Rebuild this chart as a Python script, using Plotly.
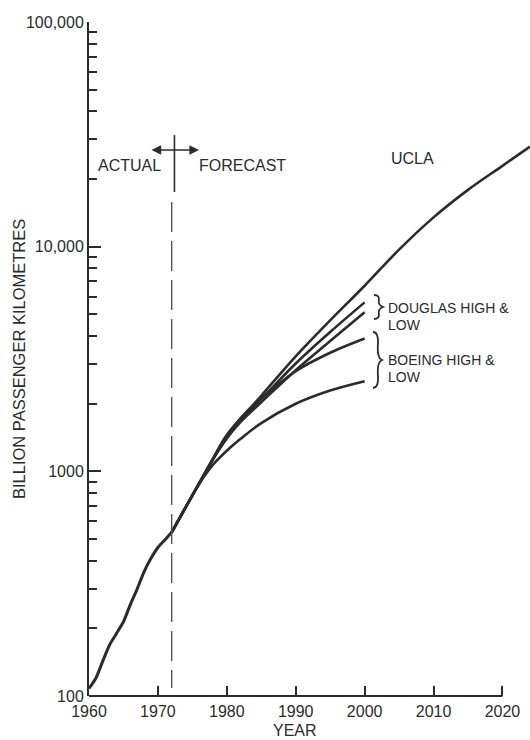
import plotly.graph_objects as go

# ---------------- data ----------------
actual_years = [1960, 1961, 1962, 1963, 1964, 1965, 1966, 1967, 1968, 1969, 1970, 1971, 1972]
actual_vals = [108, 120, 143, 169, 190, 214, 255, 300, 358, 410, 458, 495, 535]

ucla_years = [1972, 1974, 1976, 1978, 1980, 1985, 1990, 1995, 2000, 2005, 2010, 2015, 2020, 2024]
ucla_vals = [535, 690, 885, 1140, 1450, 2170, 3250, 4700, 6700, 9700, 13500, 17900, 22900, 27900]

fc_years = [1972, 1974, 1976, 1978, 1980, 1982, 1985, 1990, 1995, 2000]
douglas_high = [535, 690, 885, 1135, 1430, 1700, 2100, 3020, 4170, 5650]
douglas_low = [535, 690, 885, 1130, 1400, 1660, 2030, 2820, 3800, 5100]
boeing_high = [535, 690, 885, 1135, 1440, 1720, 2110, 2790, 3370, 3900]
boeing_low = [535, 690, 880, 1070, 1235, 1395, 1640, 2000, 2290, 2520]

x_ticks = [1960, 1970, 1980, 1990, 2000, 2010, 2020]
y_ticks = [100, 1000, 10000, 100000]
y_ticktext = ["100", "1000", "10,000", "100,000"]
y_minor = [m * 10 ** e for e in (2, 3, 4) for m in range(2, 10)]

forecast_year = 1972

# ---------------- layout helpers ----------------
W, H = 530, 740
L, R, T, B = 89, 0, 22, 44
PW, PH = W - L - R, H - T - B
INK = "#2b2b2b"
FONT = "Liberation Sans"


def px(p):
    return (p - L) / PW


def py(p):
    return (H - B - p) / PH


fig = go.Figure()
fig.add_trace(go.Scatter(x=actual_years, y=actual_vals, mode="lines",
                         line=dict(color=INK, width=3, shape="spline", smoothing=0.6),
                         name="Actual", showlegend=False))
for name, yrs, vals in [("UCLA", ucla_years, ucla_vals),
                        ("Douglas high", fc_years, douglas_high),
                        ("Douglas low", fc_years, douglas_low),
                        ("Boeing high", fc_years, boeing_high),
                        ("Boeing low", fc_years, boeing_low)]:
    fig.add_trace(go.Scatter(x=yrs, y=vals, mode="lines",
                             line=dict(color=INK, width=2.6, shape="spline", smoothing=1.0),
                             name=name, showlegend=False))

shapes = [
    # x axis line only to 2020
    dict(type="line", xref="x", yref="paper", x0=1960, x1=2020, y0=0, y1=0,
         line=dict(color=INK, width=2)),
    # solid top part of the divider
    dict(type="line", xref="x", yref="paper", x0=forecast_year + 0.4, x1=forecast_year + 0.4,
         y0=py(135), y1=py(192), line=dict(color=INK, width=1.6)),
    # dashed divider
    dict(type="line", xref="x", yref="paper", x0=forecast_year, x1=forecast_year,
         y0=py(202), y1=py(688), line=dict(color="#555", width=1.4, dash="30px,9px")),
]


def brace(x, y0, y1, w=6):
    ym = (y0 + y1) / 2
    p = (f"M {px(x)},{py(y0)} "
         f"Q {px(x + w)},{py(y0)} {px(x + w * 0.8)},{py(y0 + (ym - y0) * 0.5)} "
         f"Q {px(x + w * 0.7)},{py(ym - 2)} {px(x + w * 1.5)},{py(ym)} "
         f"Q {px(x + w * 0.7)},{py(ym + 2)} {px(x + w * 0.8)},{py(ym + (y1 - ym) * 0.5)} "
         f"Q {px(x + w)},{py(y1)} {px(x)},{py(y1)}")
    return dict(type="path", xref="paper", yref="paper", path=p,
                line=dict(color=INK, width=1.8))


shapes.append(brace(374, 295, 319))
shapes.append(brace(373, 332, 388))

txt = dict(family=FONT, size=16, color=INK)
txt2 = dict(family=FONT, size=14, color=INK)
annotations = [
    dict(text="ACTUAL", x=px(96), y=py(165), font=txt),
    dict(text="FORECAST", x=px(197), y=py(165), font=txt),
    dict(text="UCLA", x=px(389), y=py(159), font=txt),
    dict(text="DOUGLAS HIGH &", x=px(386), y=py(308), font=txt2),
    dict(text="LOW", x=px(386), y=py(325), font=txt2),
    dict(text="BOEING HIGH &", x=px(386), y=py(360), font=txt2),
    dict(text="LOW", x=px(386), y=py(377), font=txt2),
]
for a in annotations:
    a.update(xref="paper", yref="paper", xanchor="left", yanchor="middle", showarrow=False)
annotations.append(dict(text="", xref="paper", yref="paper", x=px(199), y=py(150),
                        ax=-49, ay=0, axref="pixel", ayref="pixel", showarrow=True,
                        arrowhead=2, arrowside="end+start", arrowsize=1.2,
                        arrowwidth=1.6, arrowcolor=INK, startarrowhead=2, startarrowsize=1.2))
annotations.append(dict(text="BILLION PASSENGER KILOMETRES", textangle=-90,
                        xref="paper", yref="paper", x=px(19), y=0.5,
                        xanchor="center", yanchor="middle", showarrow=False,
                        font=dict(family=FONT, size=16.5, color=INK)))
annotations.append(dict(text="YEAR", xref="paper", yref="paper", x=px(295), y=py(730),
                        xanchor="center", yanchor="middle", showarrow=False,
                        font=dict(family=FONT, size=16, color=INK)))

fig.update_layout(
    width=W, height=H,
    margin=dict(l=L, r=R, t=T, b=B, autoexpand=False),
    paper_bgcolor="white", plot_bgcolor="white",
    shapes=shapes, annotations=annotations,
    xaxis=dict(range=[1960, 2024], tickvals=x_ticks, ticks="inside", ticklen=10,
               tickwidth=1.8, tickcolor=INK, showline=False, showgrid=False,
               zeroline=False, ticklabelstandoff=4,
               tickfont=dict(family=FONT, size=16, color=INK)),
    yaxis=dict(type="log", range=[2, 5], tickvals=y_ticks, ticktext=y_ticktext,
               ticks="inside", ticklen=12, tickwidth=1.8, tickcolor=INK,
               showline=True, linewidth=2, linecolor=INK, showgrid=False,
               zeroline=False, tickfont=dict(family=FONT, size=16, color=INK),
               minor=dict(tickvals=y_minor, ticks="inside", ticklen=8,
                          tickwidth=1.5, tickcolor=INK, showgrid=False)),
)

fig.write_html("out.html")
